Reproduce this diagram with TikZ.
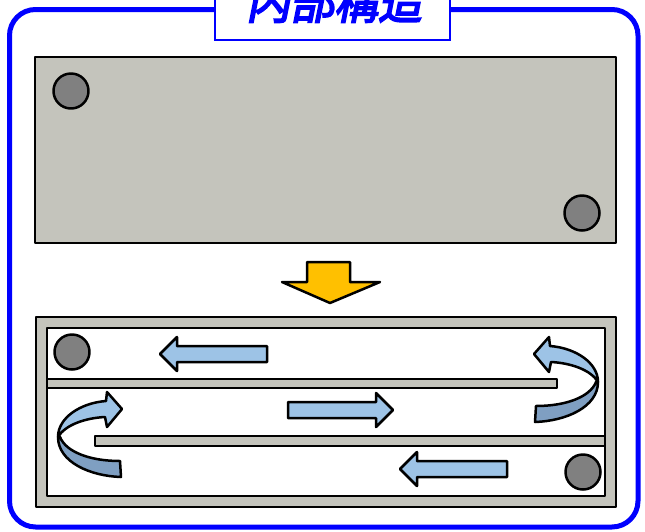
\documentclass[tikz,border=0pt]{standalone}
\usepackage{fontspec}
\newfontfamily\cjk[FakeSlant=0.2,FakeBold=4]{Noto Sans CJK JP}
\definecolor{frameblue}{HTML}{0000FF}
\definecolor{panelgray}{HTML}{C4C4BC}
\definecolor{dotgray}{HTML}{808080}
\definecolor{arrowlight}{HTML}{9DC3E6}
\definecolor{arrowdark}{HTML}{7F9FC2}
\definecolor{goldarrow}{HTML}{FFC000}
\tikzset{
  outline/.style={draw=black, line width=2.5pt, line join=round},
  panel/.style={outline, fill=panelgray},
  dot/.style={outline, fill=dotgray},
  flowarrow/.style={outline, fill=arrowlight},
  flowdark/.style={outline, fill=arrowdark},
}
\begin{document}
\begin{tikzpicture}[x=1pt,y=-1pt]
\useasboundingbox (0,0) rectangle (645,531);
% outer frame
\draw[frameblue, line width=5pt, rounded corners=26pt] (9.5,9.5) rectangle (638,527);
% title box
\draw[frameblue, line width=2pt, fill=white] (215,-10) rectangle (450,40);
\node[anchor=base, text=frameblue, font=\cjk\fontsize{44}{44}\selectfont, inner sep=0pt] (title) at (334,19) {内部構造};
% top panel
\draw[panel] (35,57) rectangle (616,243);
\draw[dot] (71,91) circle (17.5);
\draw[dot] (582,213) circle (17.5);
% yellow arrow
\draw[outline, fill=goldarrow] (307,262) -- (350,262) -- (350,282) -- (380,282) -- (330,303) -- (282,282) -- (307,282) -- cycle;
% bottom panel
\draw[panel] (36,317) rectangle (616,507);
\draw[outline, fill=white] (47,328) rectangle (605,496);
\draw[panel] (47,379) rectangle (557,388);
\draw[panel] (95,436) rectangle (605,446);
\draw[dot] (72,352) circle (17.5);
\draw[dot] (583,472) circle (17.5);
% straight arrows
\draw[flowarrow] (160,354) -- (177,337) -- (177,346) -- (267,346) -- (267,362) -- (177,362) -- (177,371) -- cycle;
\draw[flowarrow] (393,410) -- (376,393) -- (376,402) -- (288,402) -- (288,418) -- (376,418) -- (376,427) -- cycle;
\draw[flowarrow] (400,469) -- (417,452) -- (417,461) -- (507,461) -- (507,477) -- (417,477) -- (417,486) -- cycle;
% left curved arrow
\draw[flowdark] (58,437) .. controls (58,462) and (90,476) .. (121,477) -- (120,461) .. controls (90,461) and (66,452) .. (60,437) -- cycle;
\draw[flowarrow] (122,409) -- (107,392) -- (106,401) .. controls (80,403) and (58,418) .. (58,437) .. controls (65,425) and (85,418) .. (105,417) -- (107,427) -- cycle;
% right curved arrow (mirror)
\begin{scope}[xshift=656pt, yshift=55pt, xscale=-1]
\draw[flowdark] (58,437) .. controls (58,462) and (90,476) .. (121,477) -- (120,461) .. controls (90,461) and (66,452) .. (60,437) -- cycle;
\draw[flowarrow] (122,409) -- (107,392) -- (106,401) .. controls (80,403) and (58,418) .. (58,437) .. controls (65,425) and (85,418) .. (105,417) -- (107,427) -- cycle;
\end{scope}
\end{tikzpicture}
\end{document}
